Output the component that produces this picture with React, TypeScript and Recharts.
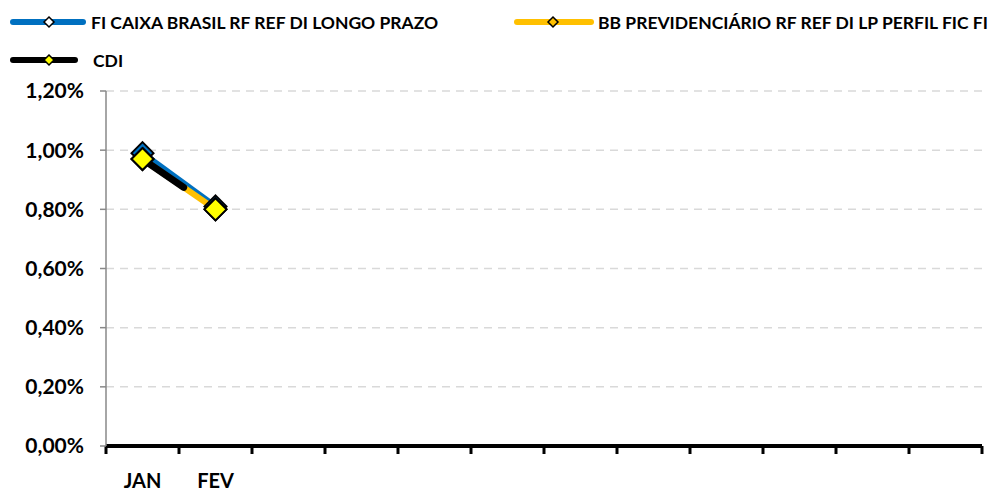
import { LineChart, Line, XAxis, YAxis, CartesianGrid } from 'recharts';

const months = ['JAN', 'FEV', 'MAR', 'ABR', 'MAI', 'JUN', 'JUL', 'AGO', 'SET', 'OUT', 'NOV', 'DEZ'];
const monthLabels = ['JAN', 'FEV', '', '', '', '', '', '', '', '', '', ''];
const caixa = [0.99, 0.81];
const bbPrev = [0.97, 0.8];
const cdi = [0.97, 0.8];
const yTicks = [0, 0.2, 0.4, 0.6, 0.8, 1.0, 1.2];
const xTicks = [0, 1, 2, 3, 4, 5, 6, 7, 8, 9, 10, 11, 12];

const seriesNames = {
  caixa: 'FI CAIXA BRASIL RF REF DI LONGO PRAZO',
  bb: 'BB PREVIDENCIÁRIO RF REF DI LP PERFIL FIC FI',
  cdi: 'CDI',
};

const data = months.map((m, i) => ({
  pos: i + 0.5,
  month: m,
  caixa: caixa[i] ?? null,
  bb: bbPrev[i] ?? null,
  cdi: cdi[i] ?? null,
}));

const W = 1006;
const H = 491;
const margin = { top: 91, right: 24, bottom: 0, left: 0 };
const yAxisWidth = 106;
const step = (W - margin.left - margin.right - yAxisWidth) / 12;
const font = 'Lato, "Open Sans", sans-serif';

const diamond = (fill: string, r: number) => (props: any) => {
  const { cx, cy, index } = props;
  if (cx == null || cy == null) return <g key={index} />;
  return (
    <path
      key={index}
      d={`M${cx},${cy - r}L${cx + r},${cy}L${cx},${cy + r}L${cx - r},${cy}Z`}
      fill={fill}
      stroke="#000"
      strokeWidth={2}
    />
  );
};

function MonthTick(props: any) {
  const { x, y, payload } = props;
  const label = monthLabels[payload.value];
  if (!label) return <g />;
  return (
    <text x={x + step / 2} y={y + 32} textAnchor="middle" fill="#000" fontSize={20} fontWeight={700} fontFamily={font}>
      {label}
    </text>
  );
}

function LegendItem({ left, top, color, marker, text, lineWidth, gap }: any) {
  return (
    <div style={{ position: 'absolute', left, top, display: 'flex', alignItems: 'center', height: 20 }}>
      <svg width={lineWidth + 10 + gap} height={20} style={{ display: 'block', flexShrink: 0 }}>
        <line x1={5} y1={10} x2={lineWidth + 5} y2={10} stroke={color} strokeWidth={6} strokeLinecap="round" />
        <path d={`M${41},5L${46},10L${41},15L${36},10Z`} fill={marker} stroke="#000" strokeWidth={1.5} />
      </svg>
      <span style={{ fontFamily: font, fontWeight: 700, fontSize: 17.5, color: '#000', whiteSpace: 'nowrap' }}>{text}</span>
    </div>
  );
}

export default function App() {
  return (
    <div style={{ position: 'absolute', left: 0, top: 0, width: W, height: H, background: '#fff' }}>
      <LegendItem left={8} top={12} color="#0070C0" marker="#fff" text={seriesNames.caixa} lineWidth={70} gap={3} />
      <LegendItem left={512} top={12} color="#FFC000" marker="#FFC000" text={seriesNames.bb} lineWidth={74} gap={2} />
      <LegendItem left={8} top={50} color="#000" marker="#FFFF00" text={seriesNames.cdi} lineWidth={62} gap={13} />
      <LineChart width={W} height={H} data={data} margin={margin}>
        <CartesianGrid horizontal vertical={false} stroke="#D9D9D9" strokeWidth={1.5} strokeDasharray="8 6" />
        <XAxis
          type="number"
          dataKey="pos"
          domain={[0, 12]}
          ticks={xTicks}
          interval={0}
          height={45}
          axisLine={{ stroke: '#000', strokeWidth: 4 }}
          tickLine={{ stroke: '#000', strokeWidth: 3 }}
          tickSize={8}
          tick={<MonthTick />}
        />
        <YAxis
          domain={[0, 1.2]}
          ticks={yTicks}
          width={yAxisWidth}
          axisLine={{ stroke: '#898989', strokeWidth: 1.5 }}
          tickLine={{ stroke: '#898989', strokeWidth: 1.5 }}
          tickSize={6}
          tickMargin={16}
          tick={{ fill: '#000', fontSize: 21, fontWeight: 700, fontFamily: font }}
          tickFormatter={(v: number) => v.toFixed(2).replace('.', ',') + '%'}
        />
        <Line
          dataKey="caixa"
          stroke="#0070C0"
          strokeWidth={6}
          dot={diamond('#0070C0', 11)}
          isAnimationActive={false}
        />
        <Line
          dataKey="bb"
          stroke="#FFC000"
          strokeWidth={6}
          dot={diamond('#FFFF00', 11)}
          isAnimationActive={false}
        />
        <Line
          dataKey="cdi"
          stroke="#000"
          strokeWidth={7}
          strokeLinecap="round"
          strokeDasharray="50 1000"
          dot={diamond('#FFFF00', 11)}
          isAnimationActive={false}
        />
      </LineChart>
    </div>
  );
}
